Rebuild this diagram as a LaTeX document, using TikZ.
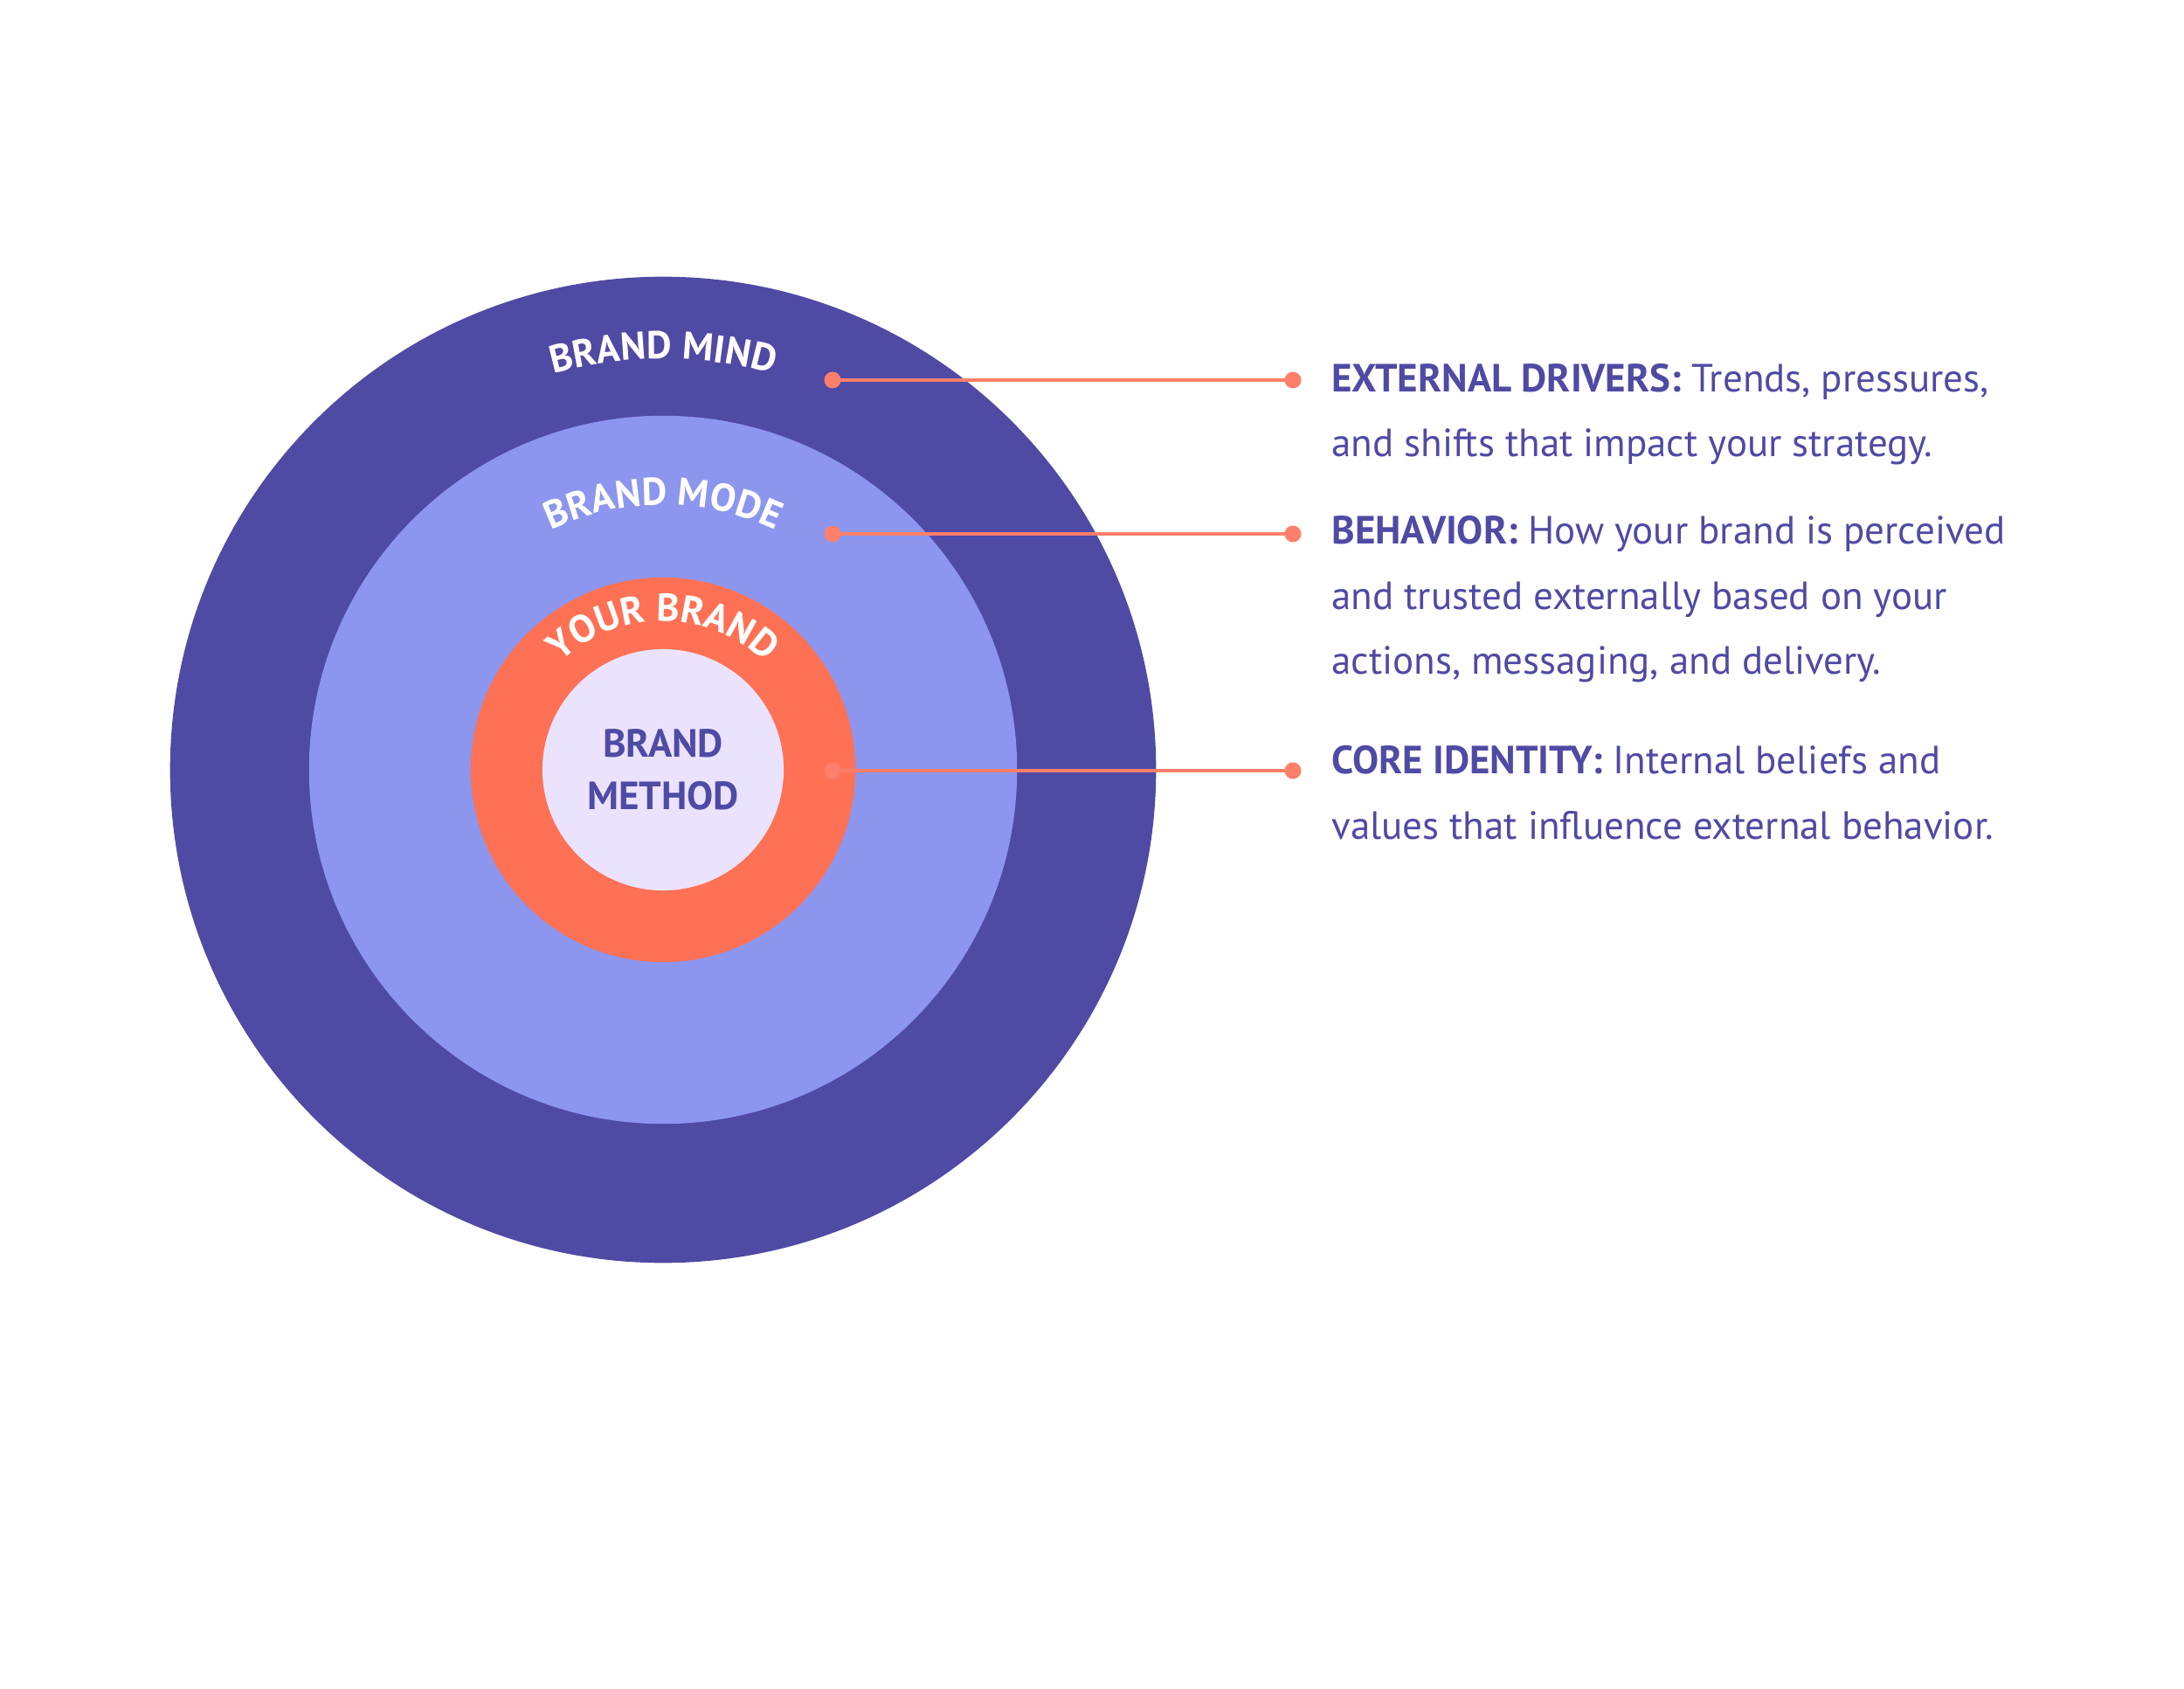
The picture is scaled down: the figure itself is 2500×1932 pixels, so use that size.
\documentclass[tikz,border=0pt]{standalone}
\usepackage{fontspec}
\setmainfont{PT Sans}
\usetikzlibrary{decorations.text}
\definecolor{mind}{HTML}{4F4AA4}
\definecolor{mode}{HTML}{8C96EE}
\definecolor{yours}{HTML}{FF7155}
\definecolor{method}{HTML}{EBE3FD}
\definecolor{wirecol}{HTML}{FF7F6B}
\newcommand{\ringfont}{\bfseries\fontsize{12.6pt}{15pt}\selectfont}

\begin{document}
\begin{tikzpicture}[x=0.01cm, y=0.01cm,
    ring/.style={circle, inner sep=0pt, draw=none},
    pin/.style={circle, fill=wirecol, inner sep=0pt, minimum size=0.19cm},
    wire/.style={draw=wirecol, line width=1.1pt},
    desc/.style={anchor=base west, align=left, text=mind, font=\fontsize{12.8pt}{21.3pt}\selectfont},
    arclabel/.style={decorate, decoration={text along path, text align=center, text color=white}}]
\useasboundingbox (0,0) rectangle (2500,1932);
\node[ring, fill=mind, minimum size=11.28cm] (mind) at (759,1051) {};
\node[ring, fill=mode, minimum size=8.10cm] (mode) at (mind.center) {};
\node[ring, fill=yours, minimum size=4.40cm] (yours) at (mind.center) {};
\node[ring, fill=method, minimum size=2.76cm, align=center, text=mind, font=\bfseries\fontsize{12.8pt}{17pt}\selectfont] (method) at (mind.center) {BRAND\\METHOD};
\path[arclabel, decoration={text={|\ringfont|BRAND MIND}}] ([shift={(180:4.70cm)}]mind.center) arc[start angle=180, end angle=0, radius=4.70cm];
\path[arclabel, decoration={text={|\ringfont|BRAND MODE}}] ([shift={(180:3.03cm)}]mind.center) arc[start angle=180, end angle=0, radius=3.03cm];
\path[arclabel, decoration={text={|\ringfont|YOUR BRAND}}] ([shift={(180:1.70cm)}]mind.center) arc[start angle=180, end angle=0, radius=1.70cm];
\node[pin] (mindpin) at (953,1497) {};
\node[pin] (mindtip) at (1480,1497) {};
\node[pin] (modepin) at (953,1321) {};
\node[pin] (modetip) at (1480,1321) {};
\node[pin] (yourspin) at (953,1050) {};
\node[pin] (yourstip) at (1480,1050) {};
\draw[wire] (mindpin.center) -- (mindtip.center);
\draw[wire] (modepin.center) -- (modetip.center);
\draw[wire] (yourspin.center) -- (yourstip.center);
\node[desc] (mindtext) at (1512,1409) {\textbf{EXTERNAL DRIVERS:} Trends, pressures,\\and shifts that impact your strategy.};
\node[desc] (modetext) at (1512,1160) {\textbf{BEHAVIOR:} How your brand is perceived\\and trusted externally based on your\\actions, messaging, and delivery.};
\node[desc] (yourstext) at (1512,972) {\textbf{CORE IDENTITY:} Internal beliefs and\\values that influence external behavior.};
\end{tikzpicture}
\end{document}
